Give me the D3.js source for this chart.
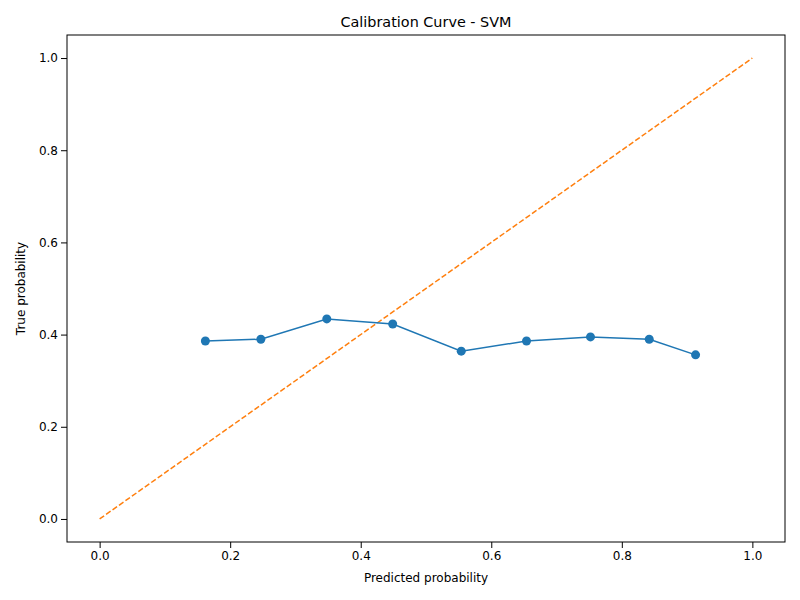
<!DOCTYPE html>
<html>
<head>
<meta charset="utf-8">
<script src="https://cdn.jsdelivr.net/npm/d3@7"></script>
<style>
  body { margin: 0; background: #fff; }
  text { font-family: "DejaVu Sans", sans-serif; }
</style>
</head>
<body>
<svg id="chart" width="800" height="600"></svg>
<script>
// Calibration curve values
var predicted = [0.162, 0.247, 0.348, 0.449, 0.554, 0.654, 0.752, 0.842, 0.913];
var trueProb = [0.386, 0.390, 0.434, 0.423, 0.364, 0.386, 0.395, 0.390, 0.356];
var diagonal = [0, 1];
var ticks = [0, 0.2, 0.4, 0.6, 0.8, 1.0];

var svg = d3.select("#chart");
// plot area edges (don't use "top": it clashes with window.top)
var mLeft = 67, mRight = 785, mTop = 35, mBottom = 542;

var x = d3.scaleLinear().domain([-0.05, 1.05]).range([mLeft, mRight]);
var y = d3.scaleLinear().domain([-0.05, 1.05]).range([mBottom, mTop]);

// Axes
svg.append("g")
  .attr("transform", `translate(0,${mBottom})`)
  .call(d3.axisBottom(x).tickValues(ticks).tickFormat(d3.format(".1f")).tickSizeOuter(0))
  .call(g => g.selectAll("text").attr("font-size", 12).attr("fill", "#000"));
svg.append("g")
  .attr("transform", `translate(${mLeft},0)`)
  .call(d3.axisLeft(y).tickValues(ticks).tickFormat(d3.format(".1f")).tickSizeOuter(0))
  .call(g => g.selectAll("text").attr("font-size", 12).attr("fill", "#000"));
svg.selectAll(".domain").remove();

svg.append("rect")
  .attr("x", mLeft).attr("y", mTop)
  .attr("width", mRight - mLeft).attr("height", mBottom - mTop)
  .attr("fill", "none").attr("stroke", "#000").attr("stroke-width", 1);

// Perfectly calibrated diagonal
svg.append("path")
  .datum(diagonal)
  .attr("d", d3.line().x(d => x(d)).y(d => y(d)))
  .attr("fill", "none").attr("stroke", "#ff7f0e")
  .attr("stroke-width", 1.5).attr("stroke-dasharray", "5.5,2.4");

// Model curve
var pts = predicted.map((p, i) => [p, trueProb[i]]);
svg.append("path")
  .datum(pts)
  .attr("d", d3.line().x(d => x(d[0])).y(d => y(d[1])))
  .attr("fill", "none").attr("stroke", "#1f77b4").attr("stroke-width", 1.5);
svg.selectAll("circle.pt")
  .data(pts).enter().append("circle")
  .attr("class", "pt")
  .attr("cx", d => x(d[0])).attr("cy", d => y(d[1]))
  .attr("r", 4.5).attr("fill", "#1f77b4");

// Labels
svg.append("text").attr("x", (mLeft + mRight) / 2).attr("y", 27)
  .attr("text-anchor", "middle").attr("font-size", 14.4).text("Calibration Curve - SVM");
svg.append("text").attr("x", (mLeft + mRight) / 2).attr("y", 582)
  .attr("text-anchor", "middle").attr("font-size", 12).text("Predicted probability");
svg.append("text")
  .attr("transform", `translate(25,${(mTop + mBottom) / 2}) rotate(-90)`)
  .attr("text-anchor", "middle").attr("font-size", 12).text("True probability");
</script>
</body>
</html>
